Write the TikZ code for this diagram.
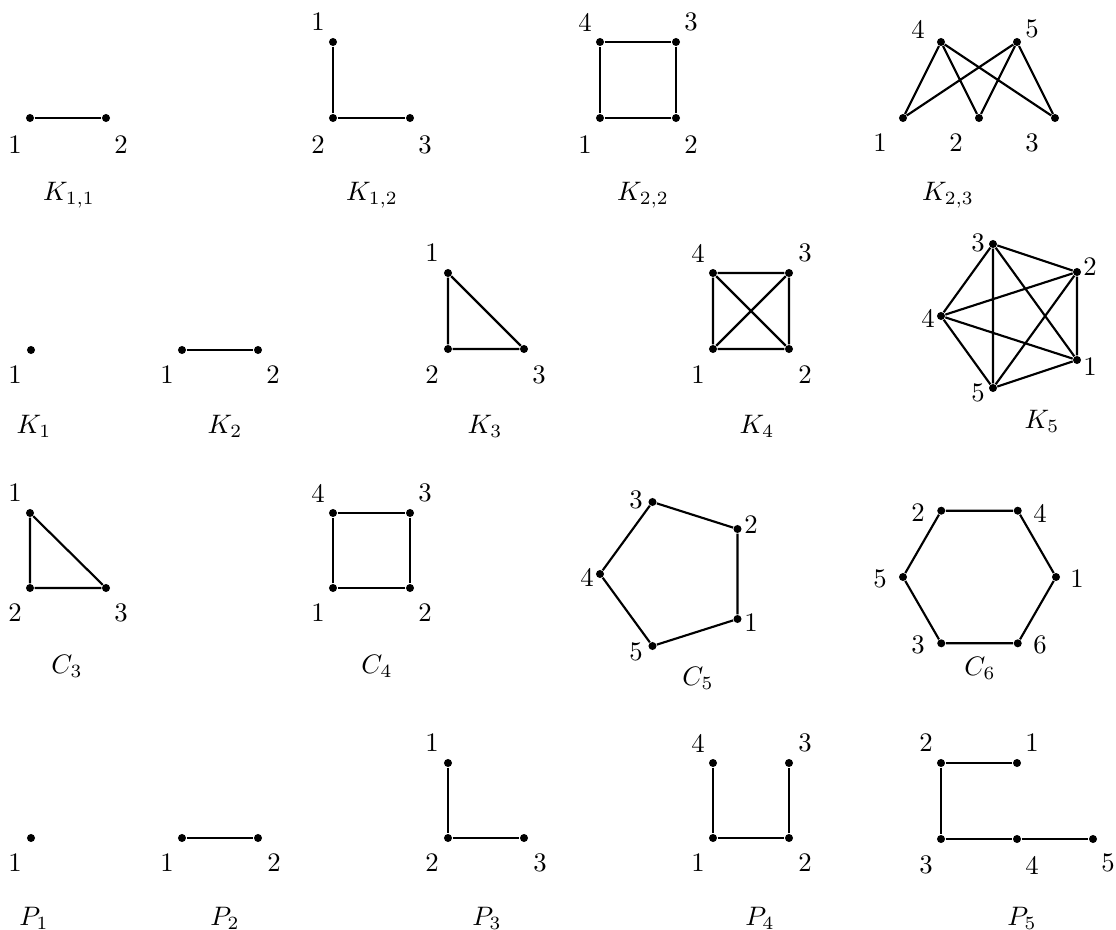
\documentclass[tikz,border=0pt]{standalone}
\newcommand\vtx[6]{\node[v] (#1) at (#2,#3) {}; \node[lab] (#1l) at (#4,#5) {#6};}
\begin{document}
\begin{tikzpicture}[x=0.0131579cm,y=-0.0131579cm,
  v/.style={circle,fill=black,inner sep=0pt,minimum size=3pt},
  lab/.style={inner sep=0pt},
  gcapt/.style={anchor=base,inner sep=0pt},
  e/.style={line width=0.8pt}]
\useasboundingbox (0,0) rectangle (1116,930);
% K_{1,1}
\vtx{a1}{30}{118}{15}{145}{1}
\vtx{a2}{106}{118}{121}{145}{2}
\draw[e] (a1) -- (a2);
\node[gcapt] (ka) at (69,200) {$K_{1,1}$};
% K_{1,2}
\vtx{b1}{333}{42}{318}{22}{1}
\vtx{b2}{333}{118}{318}{145}{2}
\vtx{b3}{410}{118}{425}{145}{3}
\draw[e] (b1) -- (b2) -- (b3);
\node[gcapt] (kb) at (372,200) {$K_{1,2}$};
% K_{2,2}
\vtx{c4}{600}{42}{585}{22}{4}
\vtx{c3}{676}{42}{691}{22}{3}
\vtx{c1}{600}{118}{585}{145}{1}
\vtx{c2}{676}{118}{691}{145}{2}
\draw[e] (c4) -- (c3) -- (c2) -- (c1) -- (c4);
\node[gcapt] (kc) at (643,200) {$K_{2,2}$};
% K_{2,3}
\vtx{d4}{941}{42}{918}{29}{4}
\vtx{d5}{1017}{42}{1032}{29}{5}
\vtx{d1}{903}{118}{880}{143}{1}
\vtx{d2}{979}{118}{956}{143}{2}
\vtx{d3}{1055}{118}{1032}{143}{3}
\draw[e] (d4) -- (d1) (d4) -- (d2) (d4) -- (d3)
         (d5) -- (d1) (d5) -- (d2) (d5) -- (d3);
\node[gcapt] (kd) at (948,200) {$K_{2,3}$};
% K_1
\vtx{e1}{31}{350}{15}{375}{1}
\node[gcapt] (ke) at (34,433) {$K_1$};
% K_2
\vtx{f1}{182}{350}{167}{375}{1}
\vtx{f2}{258}{350}{273}{375}{2}
\draw[e] (f1) -- (f2);
\node[gcapt] (kf) at (225,433) {$K_2$};
% K_3
\vtx{g1}{448}{273}{432}{253}{1}
\vtx{g2}{448}{349}{432}{375}{2}
\vtx{g3}{524}{349}{539}{375}{3}
\draw[e] (g1) -- (g2) -- (g3) -- (g1);
\node[gcapt] (kg) at (485,433) {$K_3$};
% K_4
\vtx{h4}{713}{273}{698}{253}{4}
\vtx{h3}{789}{273}{805}{253}{3}
\vtx{h1}{713}{349}{698}{375}{1}
\vtx{h2}{789}{349}{805}{375}{2}
\draw[e] (h4) -- (h3) -- (h2) -- (h1) -- (h4) (h4) -- (h2) (h3) -- (h1);
\node[gcapt] (kh) at (757,433) {$K_4$};
% K_5
\vtx{i1}{1077}{360}{1090}{367}{1}
\vtx{i2}{1077}{272}{1090}{267}{2}
\vtx{i3}{993}{244}{978}{243}{3}
\vtx{i4}{941}{316}{928}{318}{4}
\vtx{i5}{993}{388}{978}{393}{5}
\draw[e] (i1) -- (i2) -- (i3) -- (i4) -- (i5) -- (i1)
         (i1) -- (i3) (i1) -- (i4) (i2) -- (i4) (i2) -- (i5) (i3) -- (i5);
\node[gcapt] (ki) at (1042,428) {$K_5$};
% C_3
\vtx{j1}{30}{513}{15}{493}{1}
\vtx{j2}{30}{588}{15}{613}{2}
\vtx{j3}{106}{588}{121}{613}{3}
\draw[e] (j1) -- (j2) -- (j3) -- (j1);
\node[gcapt] (cj) at (67,673) {$C_3$};
% C_4
\vtx{k4}{333}{513}{318}{493}{4}
\vtx{k3}{410}{513}{425}{493}{3}
\vtx{k1}{333}{588}{318}{613}{1}
\vtx{k2}{410}{588}{425}{613}{2}
\draw[e] (k4) -- (k3) -- (k2) -- (k1) -- (k4);
\node[gcapt] (ck) at (377,673) {$C_4$};
% C_5
\vtx{m1}{737.5}{619}{751}{623}{1}
\vtx{m2}{737.5}{529}{751}{525}{2}
\vtx{m3}{652.5}{502}{636}{500}{3}
\vtx{m4}{600}{574}{587}{577}{4}
\vtx{m5}{652.5}{646}{636}{652}{5}
\draw[e] (m1) -- (m2) -- (m3) -- (m4) -- (m5) -- (m1);
\node[gcapt] (cm) at (698,685) {$C_5$};
% C_6
\vtx{n1}{1056}{577}{1077}{579}{1}
\vtx{n4}{1017.75}{510.7}{1040}{513}{4}
\vtx{n2}{941.25}{510.7}{918}{513}{2}
\vtx{n5}{903}{577}{880}{579}{5}
\vtx{n3}{941.25}{643.3}{918}{645}{3}
\vtx{n6}{1017.75}{643.3}{1040}{645}{6}
\draw[e] (n2) -- (n4) -- (n1) -- (n6) -- (n3) -- (n5) -- (n2);
\node[gcapt] (cn) at (980,675) {$C_6$};
% P_1
\vtx{p1}{31}{838}{15}{863}{1}
\node[gcapt] (pp) at (34,925) {$P_1$};
% P_2
\vtx{q1}{182}{838}{167}{863}{1}
\vtx{q2}{258}{838}{274}{863}{2}
\draw[e] (q1) -- (q2);
\node[gcapt] (pq) at (225,925) {$P_2$};
% P_3
\vtx{r1}{448}{763}{432}{743}{1}
\vtx{r2}{448}{838}{432}{863}{2}
\vtx{r3}{524}{838}{540}{863}{3}
\draw[e] (r1) -- (r2) -- (r3);
\node[gcapt] (pr) at (487,925) {$P_3$};
% P_4
\vtx{s4}{713}{763}{698}{743}{4}
\vtx{s3}{789}{763}{805}{743}{3}
\vtx{s1}{713}{838}{698}{863}{1}
\vtx{s2}{789}{838}{805}{863}{2}
\draw[e] (s4) -- (s1) -- (s2) -- (s3);
\node[gcapt] (ps) at (760,925) {$P_4$};
% P_5
\vtx{t2}{941}{763}{926}{743}{2}
\vtx{t1}{1017}{763}{1032}{743}{1}
\vtx{t3}{941}{839}{926}{865}{3}
\vtx{t4}{1017}{839}{1032}{865}{4}
\vtx{t5}{1093}{839}{1108}{863}{5}
\draw[e] (t1) -- (t2) -- (t3) -- (t4) -- (t5);
\node[gcapt] (pt) at (1022,925) {$P_5$};
\end{tikzpicture}
\end{document}
